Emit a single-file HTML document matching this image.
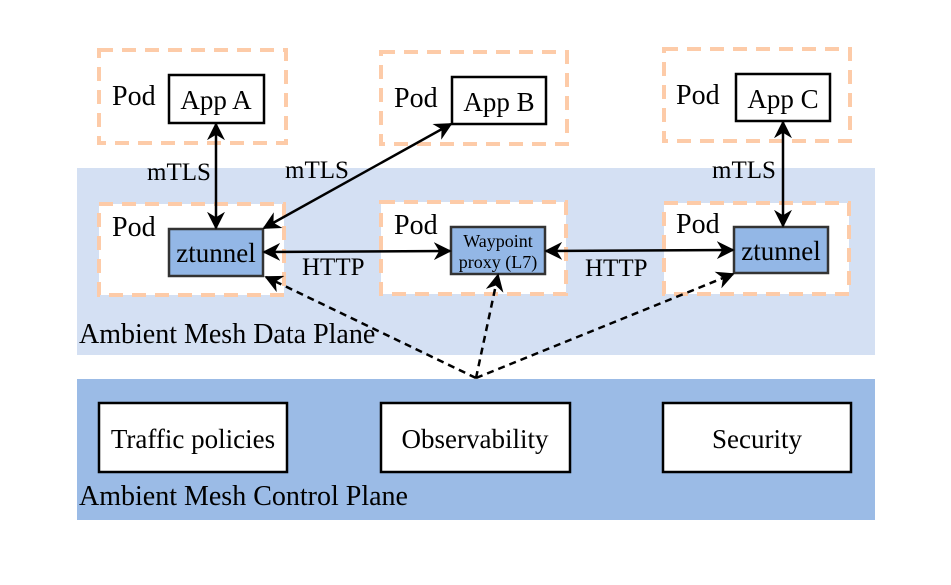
<!DOCTYPE html>
<html><head><style>
body{margin:0;background:#fff}
text{font-family:"Liberation Serif",serif;fill:#000}
</style></head><body>
<svg width="951" height="580" viewBox="0 0 951 580" xmlns="http://www.w3.org/2000/svg">
<defs>
<marker id="a2" viewBox="0 0 10 10" refX="9" refY="5" markerWidth="18" markerHeight="18" orient="auto-start-reverse" markerUnits="userSpaceOnUse">
<path d="M0,0 L10,5 L0,10 L3,5 z" fill="#000"/>
</marker>
</defs>
<rect x="77" y="168" width="798" height="187" fill="#d4e0f3"/>
<rect x="77" y="379" width="798" height="141" fill="#9bbbe6"/>
<g fill="none" stroke="#fdcba8" stroke-width="4" stroke-dasharray="14,9">
<rect x="99" y="50" width="187" height="93"/>
<rect x="381" y="52" width="186" height="92"/>
<rect x="664" y="49" width="186" height="92"/>
</g>
<g fill="#fff" stroke="#fdcba8" stroke-width="4" stroke-dasharray="14,9">
<rect x="99" y="204" width="185" height="91"/>
<rect x="381" y="202" width="185" height="92"/>
<rect x="664" y="203" width="185" height="91"/>
</g>
<g fill="#fff" stroke="#000" stroke-width="2.5">
<rect x="169" y="75" width="95" height="48"/>
<rect x="452" y="77" width="94" height="47"/>
<rect x="736" y="74" width="94" height="47"/>
<rect x="99" y="403" width="188" height="69"/>
<rect x="381" y="403" width="189" height="69"/>
<rect x="663" y="403" width="188" height="69"/>
</g>
<g fill="#93b7e6" stroke="#333" stroke-width="2.5">
<rect x="169" y="229" width="94" height="47"/>
<rect x="451" y="227" width="94" height="47"/>
<rect x="734" y="227" width="94" height="46"/>
</g>
<g font-size="27">
<text x="112" y="105" font-size="28">Pod</text>
<text x="394" y="107" font-size="28">Pod</text>
<text x="676" y="104" font-size="28">Pod</text>
<text x="112" y="236" font-size="28">Pod</text>
<text x="394" y="234" font-size="28">Pod</text>
<text x="676" y="233" font-size="28">Pod</text>
<text x="216" y="109" text-anchor="middle">App A</text>
<text x="499" y="111" text-anchor="middle">App B</text>
<text x="783" y="108" text-anchor="middle">App C</text>
<text x="216" y="262" text-anchor="middle">ztunnel</text>
<text x="781" y="260" text-anchor="middle">ztunnel</text>
<text x="193" y="448" text-anchor="middle">Traffic policies</text>
<text x="475" y="448" text-anchor="middle">Observability</text>
<text x="757" y="448" text-anchor="middle">Security</text>
<text x="79" y="343" font-size="28">Ambient Mesh Data Plane</text>
<text x="79" y="505" font-size="28">Ambient Mesh Control Plane</text>
</g>
<g font-size="25">
<text x="147" y="180">mTLS</text>
<text x="285" y="178">mTLS</text>
<text x="712" y="178">mTLS</text>
<text x="302" y="275">HTTP</text>
<text x="585" y="276">HTTP</text>
</g>
<g font-size="18">
<text x="498" y="247" text-anchor="middle">Waypoint</text>
<text x="498" y="268" text-anchor="middle">proxy (L7)</text>
</g>
<g stroke="#000" stroke-width="2.5" fill="none">
<line x1="216" y1="124" x2="216" y2="228" marker-start="url(#a2)" marker-end="url(#a2)"/>
<line x1="264" y1="228" x2="451" y2="124" marker-start="url(#a2)" marker-end="url(#a2)"/>
<line x1="783" y1="122" x2="783" y2="226" marker-start="url(#a2)" marker-end="url(#a2)"/>
<line x1="264" y1="252" x2="450" y2="251" marker-start="url(#a2)" marker-end="url(#a2)"/>
<line x1="546" y1="251" x2="733" y2="250" marker-start="url(#a2)" marker-end="url(#a2)"/>
<g stroke-dasharray="7,5">
<line x1="476" y1="378" x2="266" y2="277" marker-end="url(#a2)"/>
<line x1="476" y1="378" x2="498" y2="275" marker-end="url(#a2)"/>
<line x1="476" y1="378" x2="733" y2="274" marker-end="url(#a2)"/>
</g>
</g>
</svg>
</body></html>
